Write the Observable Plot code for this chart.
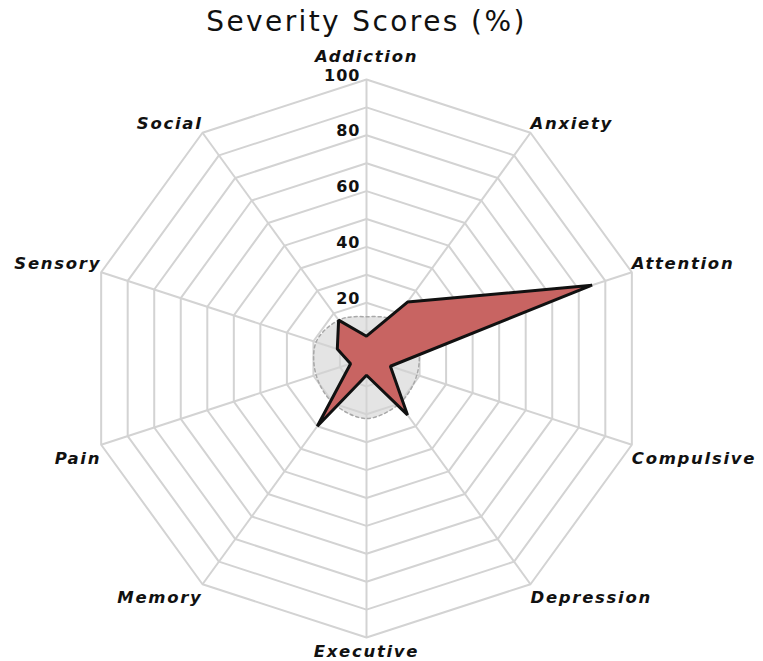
<!DOCTYPE html>
<html>
<head>
<meta charset="utf-8">
<script src="https://cdn.jsdelivr.net/npm/d3@7"></script>
<script src="https://cdn.jsdelivr.net/npm/@observablehq/plot@0.6"></script>
<style>
  body { margin: 0; background: #fff; }
  #title { height: 42px; line-height: 44px; text-align: center; padding-right: 30px; font-family: "DejaVu Sans", sans-serif; font-size: 28px; letter-spacing: 2.4px; color: #111; }
  svg { display: block; }
  g[aria-description="category-label"] text { letter-spacing: 1.7px; }
  g[aria-description="tick-label"] text { letter-spacing: 1px; }
</style>
</head>
<body>
<div id="title">Severity Scores (%)</div>
<div id="chart"></div>
<script>
// Categories (clockwise from top)
const categories = ["Addiction", "Anxiety", "Attention", "Compulsive", "Depression", "Executive", "Memory", "Pain", "Sensory", "Social"];
// Patient severity scores (%)
const scores = [8, 25, 85, 9, 25, 6, 30, 6, 11, 17];
// Shaded reference (normal) zone (%)
const normZone = [15, 17, 19, 19, 20, 21.5, 20, 19, 19, 17];
// Grid rings and labelled ticks
const ringLevels = [10, 20, 30, 40, 50, 60, 70, 80, 90, 100];
const tickLabels = [20, 40, 60, 80, 100];

const n = categories.length;
const ang = i => (2 * Math.PI * i) / n;
const px = (v, i) => v * Math.sin(ang(i));
const py = (v, i) => v * Math.cos(ang(i));

const ringPts = ringLevels.flatMap(l => categories.map((c, i) => ({level: l, x: px(l, i), y: py(l, i)})));
const spokes = categories.map((c, i) => ({name: c, x: px(100, i), y: py(100, i), i}));
const dataPts = scores.map((v, i) => ({x: px(v, i), y: py(v, i)}));
const normPts = normZone.map((v, i) => ({x: px(v, i), y: py(v, i)}));

const eps = 1e-6;
const rightUpper = spokes.filter(d => d.x > eps && d.y > 0);
const rightLower = spokes.filter(d => d.x > eps && d.y < 0);
const leftUpper = spokes.filter(d => d.x < -eps && d.y > 0);
const leftLower = spokes.filter(d => d.x < -eps && d.y < 0);
const topLabel = spokes.filter(d => Math.abs(d.x) <= eps && d.y > 0);
const bottomLabel = spokes.filter(d => Math.abs(d.x) <= eps && d.y < 0);

const lf = {x: "x", y: "y", text: "name", ariaDescription: "category-label", fontFamily: "DejaVu Sans", fontSize: 16.5, fontWeight: "bold", fontStyle: "italic", fill: "#111"};

const chart = Plot.plot({
  width: 763,
  height: 619,
  marginLeft: 87,
  marginRight: 118,
  marginTop: 37,
  marginBottom: 24,
  x: {domain: [-100, 100], axis: null},
  y: {domain: [-100, 100], axis: null},
  style: {background: "#fff", overflow: "visible"},
  marks: [
    Plot.line(normPts, {x: "x", y: "y", curve: "cardinal-closed", fill: "#e4e4e4", stroke: "none"}),
    Plot.line(ringPts, {x: "x", y: "y", z: "level", curve: "linear-closed", stroke: "#d3d3d3", strokeWidth: 2}),
    Plot.link(spokes, {x1: 0, y1: 0, x2: "x", y2: "y", stroke: "#d3d3d3", strokeWidth: 2}),
    Plot.line(normPts, {x: "x", y: "y", curve: "cardinal-closed", fill: "none", stroke: "#a8a8a8", strokeWidth: 1.5, strokeDasharray: "3,3"}),
    Plot.line(dataPts, {x: "x", y: "y", curve: "linear-closed", fill: "#c86462", stroke: "#111", strokeWidth: 3, strokeLinejoin: "miter"}),
    Plot.text(tickLabels, {x: 0, y: d => d, text: d => String(d), ariaDescription: "tick-label", textAnchor: "end", dx: -6, dy: -4, fontFamily: "DejaVu Sans", fontSize: 16, fontWeight: "bold", fill: "#111"}),
    Plot.text(rightUpper, {...lf, textAnchor: "start", dx: 0, dy: -9}),
    Plot.text(rightLower, {...lf, textAnchor: "start", dx: 0, dy: 14}),
    Plot.text(leftUpper, {...lf, textAnchor: "end", dx: 0, dy: -9}),
    Plot.text(leftLower, {...lf, textAnchor: "end", dx: 0, dy: 14}),
    Plot.text(topLabel, {...lf, textAnchor: "middle", dy: -23}),
    Plot.text(bottomLabel, {...lf, textAnchor: "middle", dy: 14})
  ]
});
document.getElementById("chart").appendChild(chart);
</script>
</body>
</html>
